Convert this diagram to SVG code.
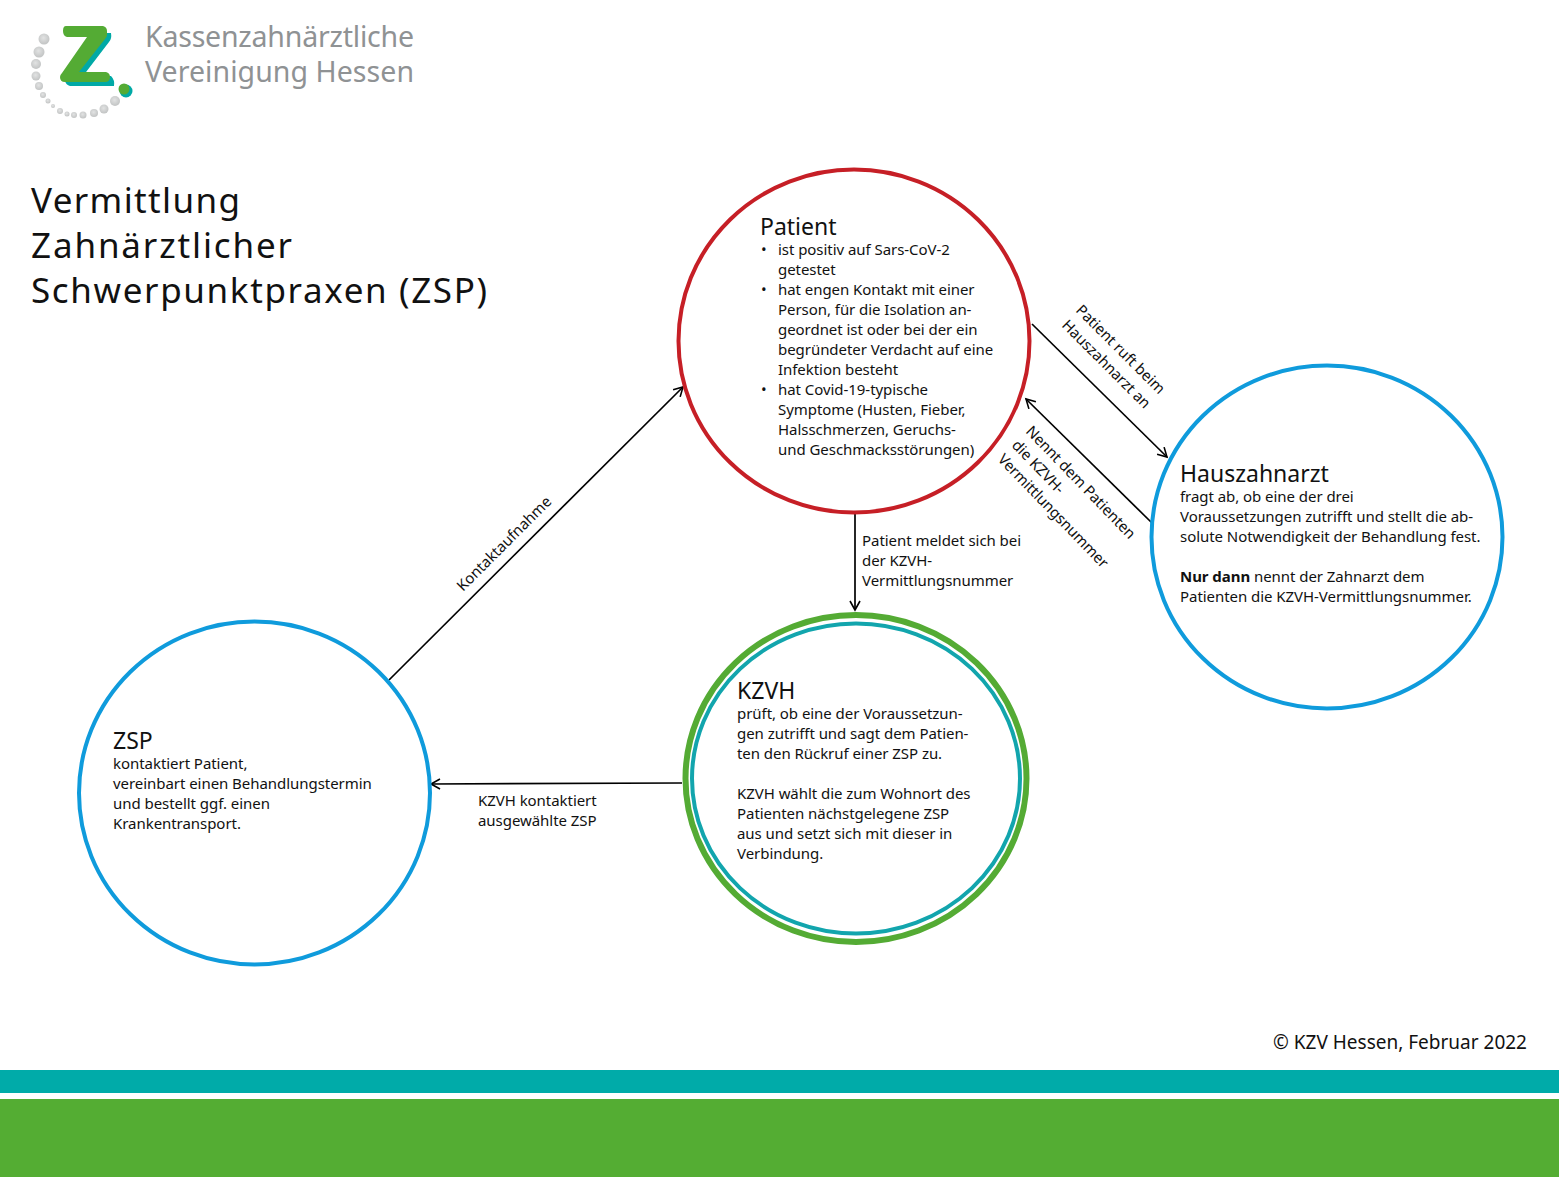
<svg xmlns="http://www.w3.org/2000/svg" width="1559" height="1177" viewBox="0 0 1559 1177">
<defs>
<marker id="arr" markerUnits="userSpaceOnUse" markerWidth="14" markerHeight="14" refX="10" refY="6" orient="auto"><path d="M1,1 L10,6 L1,11" fill="none" stroke="#000" stroke-width="1.6"/></marker>
<radialGradient id="dot" cx=".45" cy=".4" r=".65"><stop offset="0" stop-color="#e2e3e3"/><stop offset="1" stop-color="#bfc1c1"/></radialGradient>
</defs>
<style>
text{font-family:"Noto Sans","Open Sans","Liberation Sans",sans-serif;fill:#111}
.b{font-size:15px;letter-spacing:-.05px}
.h{font-size:23px}
.l{font-size:15px;letter-spacing:-.05px}
.t{font-size:35px}
.c{fill:#fff;stroke-width:4}
.con{fill:none;stroke:#000;stroke-width:1.7}
.lg{font-size:28.5px;fill:#8f9294}
.d{fill:url(#dot)}
</style>
<rect width="1559" height="1177" fill="#fff"/>
<g id="logo">
<circle class="d" cx="44" cy="39" r="5.5"/><circle class="d" cx="39" cy="52" r="5.5"/><circle class="d" cx="36" cy="64" r="5"/><circle class="d" cx="36" cy="76" r="4.5"/><circle class="d" cx="39" cy="86" r="4"/><circle class="d" cx="43" cy="95" r="3"/><circle class="d" cx="48" cy="101" r="2.5"/><circle class="d" cx="53" cy="106" r="2"/><circle class="d" cx="60" cy="111" r="3"/><circle class="d" cx="67" cy="114" r="2.5"/><circle class="d" cx="74" cy="115" r="3"/><circle class="d" cx="83" cy="115" r="3.5"/><circle class="d" cx="94" cy="113" r="4"/><circle class="d" cx="104" cy="109" r="4.5"/><circle class="d" cx="115" cy="101" r="5"/>
<path d="M70,33 H111 Q112,39 109,42 L83,76 H111 Q115,80 114,86 H70 Q66,85 65,81 L97,39 Z" fill="#00a9a6"/>
<path d="M66,26 H103 Q107,27 107,31 V35 Q107,37 105,39 L79,72 H106 Q110,73 110,77 Q110,82 105,82 H65 Q60,82 60,77 Q60,75 62,73 L87,37 H67 Q63,36 63,31 Q63,26 66,26Z" fill="#54ab34"/>
<circle cx="126" cy="91" r="6.5" fill="#00a9a6"/><circle cx="124" cy="89" r="5.5" fill="#54ab34"/>
<text class="lg" x="145" y="46.5" textLength="269" lengthAdjust="spacing">Kassenzahnärztliche</text>
<text class="lg" x="145" y="81.5" textLength="269" lengthAdjust="spacing">Vereinigung Hessen</text>
</g>
<g id="title">
<text class="t" x="31" y="213" textLength="209">Vermittlung</text>
<text class="t" x="31" y="258" textLength="261">Zahnärztlicher</text>
<text class="t" x="31" y="303" textLength="456">Schwerpunktpraxen (ZSP)</text>
</g>
<g id="connectors">
<line class="con" x1="389" y1="680" x2="683" y2="387" marker-end="url(#arr)"/>
<line class="con" x1="1032" y1="324" x2="1167" y2="457" marker-end="url(#arr)"/>
<line class="con" x1="1152" y1="523" x2="1026" y2="399" marker-end="url(#arr)"/>
<line class="con" x1="855" y1="513" x2="855" y2="610" marker-end="url(#arr)"/>
<line class="con" x1="682" y1="783" x2="431" y2="784" marker-end="url(#arr)"/>
</g>
<g id="labels">
<text class="l" transform="translate(463,592) rotate(-45)">Kontaktaufnahme</text>
<text class="l" transform="translate(1075,311) rotate(45)">Patient ruft beim</text>
<text class="l" transform="translate(1061,326) rotate(45)">Hauszahnarzt an</text>
<text class="l" transform="translate(1025,432) rotate(46)">Nennt dem Patienten</text>
<text class="l" transform="translate(1011,446) rotate(46)">die KZVH-</text>
<text class="l" transform="translate(997,460) rotate(46)">Vermittlungsnummer</text>
<text class="l" x="862" y="545.5">Patient meldet sich bei</text>
<text class="l" x="862" y="565.5">der KZVH-</text>
<text class="l" x="862" y="585.5">Vermittlungsnummer</text>
<text class="l" x="478" y="805.5">KZVH kontaktiert</text>
<text class="l" x="478" y="825.5">ausgewählte ZSP</text>
</g>
<g id="patient">
<ellipse class="c" cx="854" cy="341" rx="175.5" ry="171.5" stroke="#c61f26"/>
<text class="h" x="760" y="235">Patient</text>
<text class="b" x="761" y="254.5">•</text><text class="b" x="778" y="254.5">ist positiv auf Sars-CoV-2</text>
<text class="b" x="778" y="274.5">getestet</text>
<text class="b" x="761" y="294.5">•</text><text class="b" x="778" y="294.5">hat engen Kontakt mit einer</text>
<text class="b" x="778" y="314.5">Person, für die Isolation an-</text>
<text class="b" x="778" y="334.5">geordnet ist oder bei der ein</text>
<text class="b" x="778" y="354.5">begründeter Verdacht auf eine</text>
<text class="b" x="778" y="374.5">Infektion besteht</text>
<text class="b" x="761" y="394.5">•</text><text class="b" x="778" y="394.5">hat Covid-19-typische</text>
<text class="b" x="778" y="414.5">Symptome (Husten, Fieber,</text>
<text class="b" x="778" y="434.5">Halsschmerzen, Geruchs-</text>
<text class="b" x="778" y="454.5">und Geschmacksstörungen)</text>
</g>
<g id="hauszahnarzt">
<ellipse class="c" cx="1327" cy="537" rx="175.5" ry="171.5" stroke="#0f9bdc"/>
<text class="h" x="1180" y="482">Hauszahnarzt</text>
<text class="b" x="1180" y="501.5">fragt ab, ob eine der drei</text>
<text class="b" x="1180" y="521.5">Voraussetzungen zutrifft und stellt die ab-</text>
<text class="b" x="1180" y="541.5">solute Notwendigkeit der Behandlung fest.</text>
<text class="b" x="1180" y="581.5"><tspan font-weight="700">Nur dann</tspan> nennt der Zahnarzt dem</text>
<text class="b" x="1180" y="601.5">Patienten die KZVH-Vermittlungsnummer.</text>
</g>
<g id="kzvh">
<ellipse cx="856" cy="778.5" rx="170.5" ry="163.5" fill="#fff" stroke="#54ab34" stroke-width="6"/>
<ellipse cx="856" cy="778.5" rx="164" ry="155" fill="#fff" stroke="#12a5ad" stroke-width="4"/>
<text class="h" x="737" y="699">KZVH</text>
<text class="b" x="737" y="718.5">prüft, ob eine der Voraussetzun-</text>
<text class="b" x="737" y="738.5">gen zutrifft und sagt dem Patien-</text>
<text class="b" x="737" y="758.5">ten den Rückruf einer ZSP zu.</text>
<text class="b" x="737" y="798.5">KZVH wählt die zum Wohnort des</text>
<text class="b" x="737" y="818.5">Patienten nächstgelegene ZSP</text>
<text class="b" x="737" y="838.5">aus und setzt sich mit dieser in</text>
<text class="b" x="737" y="858.5">Verbindung.</text>
</g>
<g id="zsp">
<ellipse class="c" cx="254.5" cy="793" rx="175.5" ry="171.5" stroke="#0f9bdc"/>
<text class="h" x="113" y="749">ZSP</text>
<text class="b" x="113" y="768.5">kontaktiert Patient,</text>
<text class="b" x="113" y="788.5">vereinbart einen Behandlungstermin</text>
<text class="b" x="113" y="808.5">und bestellt ggf. einen</text>
<text class="b" x="113" y="828.5">Krankentransport.</text>
</g>
<g id="footer">
<text x="1527" y="1049" text-anchor="end" font-size="19">© KZV Hessen, Februar 2022</text>
<rect x="0" y="1070" width="1559" height="23" fill="#00aba9"/>
<rect x="0" y="1099" width="1559" height="78" fill="#54ad33"/>
</g>
</svg>
